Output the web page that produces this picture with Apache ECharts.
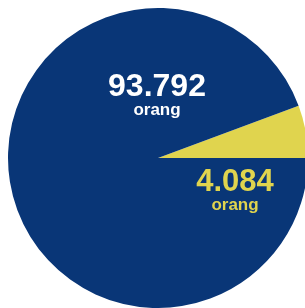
<!DOCTYPE html>
<html>
<head>
    <meta charset="utf-8">
    <title>Pie</title>
    <script src="https://cdn.jsdelivr.net/npm/echarts@6/dist/echarts.min.js"></script>
    <style>
        html, body { margin: 0; padding: 0; background: #fff; }
    </style>
</head>
<body>
    <div id="main" style="width: 305px;height:308px;"></div>
    <script type="text/javascript">
        // data
        var categories = ['kecil', 'besar'];
        var values = [4.084, 93.792];
        var valueLabels = ['4.084', '93.792'];
        var unit = 'orang';

        var colors = ['#e0d44e', '#093677'];
        var textColors = ['#e0d44e', '#ffffff'];
        var valueSizes = [31, 32];
        // where each label block sits (top-centre), px
        var labelPos = [[235, 167], [157, 72]];

        var myChart = echarts.init(document.getElementById('main'));

        var pieData = categories.map(function (c, i) {
            return {
                name: c,
                value: values[i],
                itemStyle: { color: colors[i] },
                label: {
                    formatter: '{v|' + valueLabels[i] + '}\n{u|' + unit + '}',
                    rich: {
                        v: { fontSize: valueSizes[i], fontWeight: 'bold', lineHeight: 31, color: textColors[i], fontFamily: 'Liberation Sans' },
                        u: { fontSize: 17, fontWeight: 'bold', lineHeight: 14, color: textColors[i], fontFamily: 'Liberation Sans' }
                    }
                }
            };
        });

        var option = {
            animation: false,
            series: [{
                type: 'pie',
                center: [158, 158],
                radius: 150,
                startAngle: 0,
                clockwise: false,
                minAngle: 20.4,
                avoidLabelOverlap: false,
                label: { show: true, position: 'inside' },
                labelLine: { show: false },
                labelLayout: function (p) {
                    return {
                        x: labelPos[p.dataIndex][0],
                        y: labelPos[p.dataIndex][1],
                        align: 'center',
                        verticalAlign: 'top'
                    };
                },
                emphasis: { disabled: true },
                data: pieData
            }]
        };
        myChart.setOption(option);
    </script>
</body>
</html>
